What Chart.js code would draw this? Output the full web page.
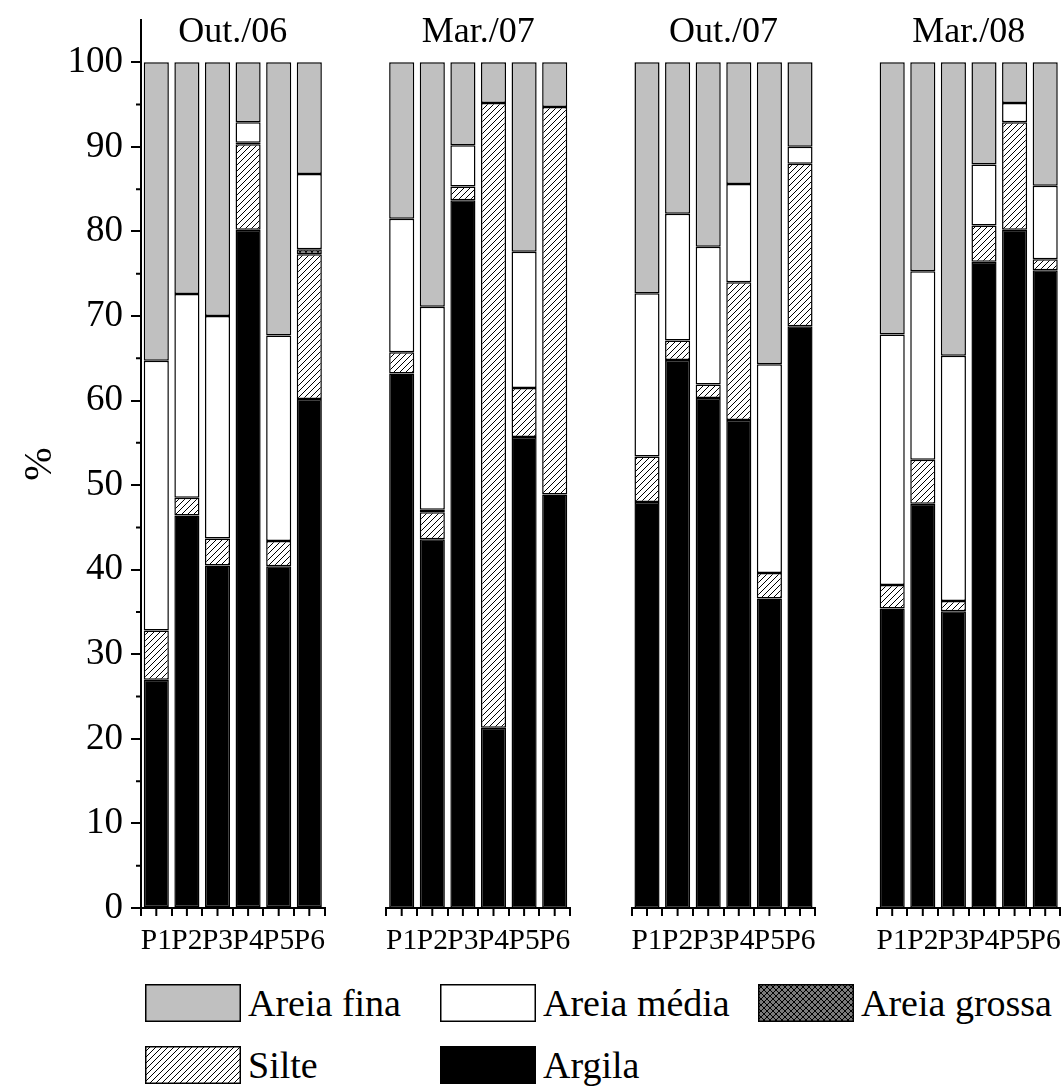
<!DOCTYPE html>
<html>
<head>
<meta charset="utf-8">
<script src="https://cdn.jsdelivr.net/npm/chart.js@4.4.1/dist/chart.umd.min.js"></script>
<style>
  html, body { margin: 0; padding: 0; background: #fff; overflow: hidden; }
  body { width: 1063px; height: 1086px; position: relative; font-family: 'Liberation Serif', 'Times New Roman', serif; color: #000; }
  canvas.chart { position: absolute; top: 0; }
  .ptitle { position: absolute; top: 12px; font-size: 36px; line-height: 36px; text-align: center; width: 184px; white-space: nowrap; }
  .leg { position: absolute; display: flex; align-items: center; font-size: 38px; line-height: 38px; white-space: nowrap; }
  .leg canvas { display: block; margin-right: 7px; }
</style>
</head>
<body>
<canvas id="c0" class="chart"></canvas>
<canvas id="c1" class="chart"></canvas>
<canvas id="c2" class="chart"></canvas>
<canvas id="c3" class="chart"></canvas>
<div id="titles"></div>
<div id="legend"></div>
<script>
// ---------------- DATA ----------------
const categories = ['P1', 'P2', 'P3', 'P4', 'P5', 'P6'];
const periods = ['Out./06', 'Mar./07', 'Out./07', 'Mar./08'];
const seriesNames = ['Argila', 'Silte', 'Areia grossa', 'Areia média', 'Areia fina'];
const yTickValues = [0, 10, 20, 30, 40, 50, 60, 70, 80, 90, 100];

// Out./06
const argilaOut06 = [27.0, 46.4, 40.5, 80.2, 40.4, 60.2];
const silteOut06  = [5.8, 2.1, 3.2, 10.1, 3.0, 17.1];
const grossaOut06 = [0, 0, 0, 0.2, 0, 0.6];
const mediaOut06  = [31.9, 24.1, 26.3, 2.4, 24.3, 8.9];
const finaOut06   = [35.3, 27.4, 30.0, 7.1, 32.3, 13.2];
// Mar./07
const argilaMar07 = [63.2, 43.6, 83.7, 21.3, 55.7, 48.9];
const silteMar07  = [2.5, 3.2, 1.6, 73.9, 5.8, 45.8];
const grossaMar07 = [0, 0.3, 0, 0, 0, 0];
const mediaMar07  = [15.8, 24.0, 4.9, 0, 16.1, 0];
const finaMar07   = [18.5, 28.9, 9.8, 4.8, 22.4, 5.3];
// Out./07
const argilaOut07 = [48.0, 64.8, 60.3, 57.7, 36.6, 68.8];
const silteOut07  = [5.4, 2.3, 1.6, 16.3, 3.0, 19.2];
const grossaOut07 = [0, 0, 0, 0, 0, 0];
const mediaOut07  = [19.3, 15.0, 16.3, 11.6, 24.7, 2.0];
const finaOut07   = [27.3, 17.9, 21.8, 14.4, 35.7, 10.0];
// Mar./08
const argilaMar08 = [35.4, 47.8, 35.1, 76.4, 80.2, 75.4];
const silteMar08  = [2.8, 5.2, 1.2, 4.3, 12.7, 1.3];
const grossaMar08 = [0, 0, 0, 0, 0, 0];
const mediaMar08  = [29.6, 22.3, 29.0, 7.2, 2.3, 8.7];
const finaMar08   = [32.2, 24.7, 34.7, 12.1, 4.8, 14.6];

const panelSeries = [
  [argilaOut06, silteOut06, grossaOut06, mediaOut06, finaOut06],
  [argilaMar07, silteMar07, grossaMar07, mediaMar07, finaMar07],
  [argilaOut07, silteOut07, grossaOut07, mediaOut07, finaOut07],
  [argilaMar08, silteMar08, grossaMar08, mediaMar08, finaMar08]
];

// ---------------- STYLE ----------------
const FONT = "'Liberation Serif', 'Times New Roman', serif";

function hatchPattern() {
  const s = 6, c = document.createElement('canvas');
  c.width = s; c.height = s;
  const g = c.getContext('2d');
  g.fillStyle = '#fff'; g.fillRect(0, 0, s, s);
  g.strokeStyle = '#000'; g.lineWidth = 1;
  g.beginPath();
  g.moveTo(0, s); g.lineTo(s, 0);
  g.moveTo(-1, 1); g.lineTo(1, -1);
  g.moveTo(s - 1, s + 1); g.lineTo(s + 1, s - 1);
  g.stroke();
  return g.createPattern(c, 'repeat');
}
function crossPattern() {
  const s = 6, c = document.createElement('canvas');
  c.width = s; c.height = s;
  const g = c.getContext('2d');
  g.fillStyle = '#7a7a7a'; g.fillRect(0, 0, s, s);
  g.strokeStyle = '#000'; g.lineWidth = 1;
  g.beginPath();
  g.moveTo(0, s); g.lineTo(s, 0);
  g.moveTo(-1, 1); g.lineTo(1, -1);
  g.moveTo(s - 1, s + 1); g.lineTo(s + 1, s - 1);
  g.moveTo(0, 0); g.lineTo(s, s);
  g.moveTo(-1, s - 1); g.lineTo(1, s + 1);
  g.moveTo(s - 1, -1); g.lineTo(s + 1, 1);
  g.stroke();
  return g.createPattern(c, 'repeat');
}
const fills = ['#000000', hatchPattern(), crossPattern(), '#ffffff', '#c0c0c0'];

// ---------------- LAYOUT ----------------
const areaLefts = [141, 386.4, 631.7, 876.9];
const areaWidth = 183.6;
const canvasH = 960;
const areaTop = 20;
const xAxisH = 52;

// extra tick marks: x at bar centres, y minor ticks
const extraTicks = {
  id: 'extraTicks',
  afterDraw(chart, args, opts) {
    const ctx = chart.ctx, xs = chart.scales.x, ys = chart.scales.y;
    ctx.save();
    ctx.strokeStyle = '#000'; ctx.lineWidth = 2;
    ctx.beginPath();
    for (let i = 0; i < categories.length; i++) {
      const px = xs.getPixelForValue(i);
      ctx.moveTo(px, xs.top); ctx.lineTo(px, xs.top + 8);
    }
    if (opts.minorY) {
      for (let v = 5; v < 100; v += 10) {
        const py = ys.getPixelForValue(v);
        ctx.moveTo(ys.right - 5, py); ctx.lineTo(ys.right, py);
      }
    }
    ctx.stroke();
    ctx.restore();
  }
};

const titleHolder = document.getElementById('titles');

periods.forEach((period, k) => {
  const cv = document.getElementById('c' + k);
  let canvasLeft, canvasW, padL, padR;
  if (k === 0) {
    canvasLeft = 0; canvasW = 330; padL = 0;
    padR = canvasW - areaLefts[0] - areaWidth;
  } else {
    canvasLeft = Math.floor(areaLefts[k]) - 4; canvasW = 192;
    padL = areaLefts[k] - canvasLeft;
    padR = canvasW - padL - areaWidth;
  }
  cv.width = canvasW; cv.height = canvasH;
  cv.style.left = canvasLeft + 'px';
  cv.style.width = canvasW + 'px'; cv.style.height = canvasH + 'px';

  const datasets = seriesNames.map((name, s) => ({
    label: name,
    data: panelSeries[k][s],
    backgroundColor: fills[s],
    borderColor: '#000',
    borderWidth: (c) => (c.raw ? 1.5 : 0),
    borderSkipped: false,
    barPercentage: 0.82,
    categoryPercentage: 1.0
  }));

  new Chart(cv, {
    type: 'bar',
    data: { labels: categories, datasets },
    plugins: [extraTicks],
    options: {
      responsive: false,
      animation: false,
      devicePixelRatio: 1,
      layout: { padding: { top: areaTop, left: padL, right: padR, bottom: 0 } },
      plugins: {
        legend: { display: false },
        tooltip: { enabled: false },
        title: { display: false },
        extraTicks: { minorY: k === 0 }
      },
      scales: {
        x: {
          stacked: true,
          offset: true,
          grid: { display: true, drawOnChartArea: false, drawTicks: true, tickLength: 8, color: '#000', lineWidth: 2, offset: true },
          border: { display: true, color: '#000', width: 2 },
          ticks: { color: '#000', font: { family: FONT, size: 29.5 }, autoSkip: false, maxRotation: 0, minRotation: 0, padding: 8 },
          afterFit: (s) => { s.height = xAxisH; s.paddingLeft = 0; s.paddingRight = 0; }
        },
        y: {
          stacked: true,
          min: 0, max: 105,
          display: k === 0,
          grid: { display: true, drawOnChartArea: false, drawTicks: true, tickLength: 10, color: '#000', lineWidth: 2 },
          border: { display: true, color: '#000', width: 2 },
          ticks: { stepSize: 10, color: '#000', font: { family: FONT, size: 37 }, padding: 8 },
          afterBuildTicks: (s) => { s.ticks = yTickValues.map(v => ({ value: v })); },
          title: { display: k === 0, text: '%', color: '#000', font: { family: FONT, size: 40 }, padding: { top: 16, bottom: 0 } },
          afterFit: (s) => {
            if (k === 0) { s.width = areaLefts[0]; }
            s.paddingTop = 0; s.paddingBottom = 0;
          }
        }
      }
    }
  });

  const t = document.createElement('div');
  t.className = 'ptitle';
  t.textContent = period;
  t.style.left = (areaLefts[k] + areaWidth / 2 - 92) + 'px';
  titleHolder.appendChild(t);
});

// ---------------- LEGEND ----------------
const legendItems = [
  { name: 'Areia fina', s: 4, x: 145, y: 984 },
  { name: 'Areia média', s: 3, x: 440, y: 984 },
  { name: 'Areia grossa', s: 2, x: 758, y: 984 },
  { name: 'Silte', s: 1, x: 145, y: 1046 },
  { name: 'Argila', s: 0, x: 440, y: 1046 }
];
const legHolder = document.getElementById('legend');
legendItems.forEach(it => {
  const d = document.createElement('div');
  d.className = 'leg';
  d.style.left = it.x + 'px';
  d.style.top = it.y + 'px';
  const sw = document.createElement('canvas');
  sw.width = 96; sw.height = 38;
  const g = sw.getContext('2d');
  g.fillStyle = fills[it.s];
  g.fillRect(0, 0, 96, 38);
  g.strokeStyle = '#000'; g.lineWidth = 1.5;
  g.strokeRect(0.75, 0.75, 94.5, 36.5);
  d.appendChild(sw);
  const sp = document.createElement('span');
  sp.textContent = it.name;
  d.appendChild(sp);
  legHolder.appendChild(d);
});
</script>
</body>
</html>
